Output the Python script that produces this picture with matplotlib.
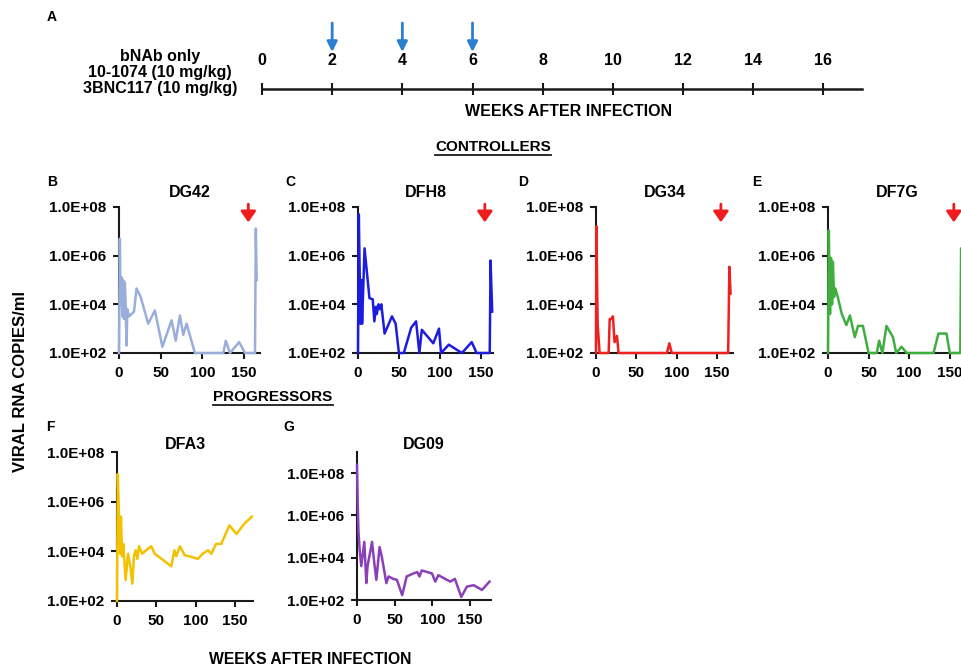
import matplotlib
matplotlib.use('Agg')
import matplotlib.pyplot as plt
from matplotlib import font_manager
from matplotlib.lines import Line2D

plt.rcParams['font.family'] = 'Liberation Sans'
plt.rcParams['font.weight'] = 'bold'

# ---------------- data (copies/ml) ----------------
dose_weeks = [2, 4, 6]
timeline_ticks = [0, 2, 4, 6, 8, 10, 12, 14, 16]
regimen_lines = ['bNAb only', '10-1074 (10 mg/kg)', '3BNC117 (10 mg/kg)']
rebound_arrow_week = 155

ytick_vals = [1e2, 1e4, 1e6, 1e8]
ytick_labels = ['1.0E+02', '1.0E+04', '1.0E+06', '1.0E+08']
xtick_vals = [0, 50, 100, 150]

weeks_dg42 = [0, 1, 2, 3, 4, 5, 6, 7, 8, 9, 10, 12, 15, 18, 21, 26, 35, 43, 52,
              63, 68, 73, 77, 81, 91, 125, 128, 133, 144, 151, 163, 164, 165]
copies_dg42 = [1e2, 5e6, 1e4, 1.3e5, 3.2e3, 1e5, 2.5e3, 8e4, 1e4, 200, 6.3e3, 3.2e3,
               4e3, 5e3, 4.5e4, 2e4, 1.6e3, 5.6e3, 180, 2.2e3, 320, 3.5e3, 560, 1.6e3,
               1e2, 1e2, 320, 1e2, 280, 1e2, 1e2, 1.3e7, 1e5]

weeks_dfh8 = [0, 1, 3, 4, 5, 8, 14, 18, 20, 22, 23, 25, 27, 28.5, 32.5, 41.5, 46, 50,
              56, 65, 71, 75, 78, 92, 99, 101.5, 111, 127, 139, 145, 161, 162, 164]
copies_dfh8 = [1e2, 5e7, 1.6e3, 1e5, 1.6e3, 2e6, 1.8e4, 1.6e4, 2e3, 8e3, 4e3, 1e4,
               6.3e3, 1e4, 630, 3.2e3, 1.6e3, 1e2, 1e2, 1.1e3, 2e3, 1e2, 900, 250,
               1e3, 1e2, 220, 1e2, 280, 1e2, 1e2, 6.3e5, 5e3]

weeks_dg34 = [0, 0.5, 2, 4.5, 15.7, 17, 19, 21, 23, 26, 28, 88, 91, 94, 164, 165.5, 167]
copies_dg34 = [1e2, 1.6e7, 1.6e3, 1e2, 1e2, 2.5e3, 2.5e3, 3.2e3, 280, 500, 1e2, 1e2,
               250, 1e2, 1e2, 3.5e5, 2.8e4]

weeks_df7g = [0, 1, 2.5, 3.7, 5, 6, 7.4, 9, 12, 17, 22.6, 27, 33, 37, 43, 50, 60, 63,
              67, 72, 80, 84, 90.5, 97, 130, 136, 146, 150, 163, 164, 165]
copies_df7g = [1e2, 1.1e7, 4e3, 8e5, 1e4, 5.6e5, 2e4, 4.5e4, 2e4, 4e3, 1.4e3, 3.5e3,
               450, 1.3e3, 1.3e3, 1e2, 1e2, 320, 1e2, 1.3e3, 450, 1e2, 180, 1e2, 1e2,
               630, 630, 1e2, 1e2, 2e6, 1e5]

weeks_dfa3 = [0, 1, 2.5, 4, 5, 6.5, 8, 11, 14, 17, 19.5, 21.6, 23.7, 26, 28, 32, 37,
              43.6, 48, 58.5, 69, 73, 75.4, 80, 86, 92, 103, 109, 115.7, 120, 126,
              132.6, 143, 152, 162, 171.6]
copies_dfa3 = [1e2, 1.3e7, 2.5e5, 8e3, 2.5e5, 6.3e3, 2e4, 700, 8e3, 2.5e3, 500, 6.3e3,
               1.1e4, 5e3, 1.6e4, 8e3, 1.1e4, 1.6e4, 8e3, 4.5e3, 2.5e3, 1.1e4, 6.3e3,
               1.6e4, 7e3, 6.3e3, 5e3, 8e3, 1.1e4, 8e3, 2e4, 2e4, 1.1e5, 5e4, 1.3e5, 2.5e5]

weeks_dg09 = [0, 1, 2, 3.5, 5.7, 9.7, 12.4, 14, 20, 23, 25.7, 30, 33, 39, 42, 48, 53,
              60, 66, 75, 80, 83, 86, 99.6, 104, 108, 117, 124, 130, 138.5, 146, 155,
              166, 176]
copies_dg09 = [2.5e8, 3e6, 1.6e5, 2.5e4, 4e3, 5.6e4, 630, 4e3, 5.6e4, 5.6e3, 900, 3.2e4,
               1.1e4, 630, 1.3e3, 1e3, 900, 170, 1.3e3, 1.8e3, 2.1e3, 1.3e3, 2.5e3,
               1.8e3, 740, 1.5e3, 1e3, 740, 1e3, 140, 430, 500, 300, 740]

# ---------------- layout ----------------
W, H = 962, 666
INK = '#1a1a1a'

names = {f.name for f in font_manager.fontManager.ttflist}
if 'Liberation Sans Narrow' in names:
    top_font, top_size = 'Liberation Sans Narrow', 13.5
else:
    top_font, top_size = 'Liberation Sans', 11.5


def px_box(left, top, width, height):
    return [left / W, 1 - (top + height) / H, width / W, height / H]


def fig_text(x, y, s, **kw):
    return fig.text(x / W, 1 - y / H, s, **kw)


fig = plt.figure(figsize=(W / 100, H / 100), dpi=100)

# panel A: dosing timeline
ax_a = fig.add_axes(px_box(262, 76, 600, 13))
ax_a.set_xlim(0, 17.1)
ax_a.set_ylim(0, 1)
ax_a.set_xticks(timeline_ticks)
ax_a.set_yticks([])
for s in ['top', 'right', 'left']:
    ax_a.spines[s].set_visible(False)
ax_a.spines['bottom'].set_linewidth(1.8)
ax_a.spines['bottom'].set_color(INK)
ax_a.patch.set_visible(False)
ax_a.tick_params(axis='x', direction='inout', length=8, width=1.5, color=INK,
                 top=False, bottom=True, labeltop=True, labelbottom=False, pad=2,
                 labelsize=top_size)
for lab in ax_a.get_xticklabels():
    lab.set_family(top_font)
for w in dose_weeks:
    ax_a.annotate('', xy=(w, 1 - 52 / H), xytext=(w, 1 - 23 / H),
                  xycoords=('data', 'figure fraction'),
                  textcoords=('data', 'figure fraction'),
                  arrowprops=dict(arrowstyle='-|>', color='#2a7fd0', lw=2,
                                  mutation_scale=15, shrinkA=0, shrinkB=0),
                  annotation_clip=False)

for i, line in enumerate(regimen_lines):
    fig_text(160, 57 + 16 * i, line, ha='center', va='center', family=top_font,
             fontsize=top_size, fontweight='bold')
fig_text(569, 111, 'WEEKS AFTER INFECTION', ha='center', va='center',
         family=top_font, fontsize=top_size, fontweight='bold')
fig_text(52, 17, 'A', ha='center', va='center', fontsize=10, fontweight='bold')


def viral_panel(rect, weeks, copies, color, name, xmax, ymax=1e8, title_pad=7.0,
                arrow=True):
    ax = fig.add_axes(px_box(*rect))
    ax.plot(weeks, copies, color=color, lw=1.8, zorder=3, clip_on=False)
    ax.set_yscale('log')
    ax.set_ylim(1e2, ymax)
    ax.set_xlim(0, xmax)
    ax.set_yticks(ytick_vals, labels=ytick_labels)
    ax.set_xticks(xtick_vals)
    ax.minorticks_off()
    for s in ['top', 'right']:
        ax.spines[s].set_visible(False)
    for s in ['left', 'bottom']:
        ax.spines[s].set_linewidth(1.5)
        ax.spines[s].set_color(INK)
    ax.tick_params(direction='out', length=4, width=1.5, color=INK, labelsize=11)
    ax.tick_params(axis='y', pad=5)
    ax.tick_params(axis='x', pad=5.5)
    ax.set_title(name, fontsize=11.5, fontweight='bold', pad=title_pad)
    if arrow:
        ax.annotate('', xy=(rebound_arrow_week, 0.895),
                    xytext=(rebound_arrow_week, 1.02),
                    xycoords=('data', 'axes fraction'),
                    textcoords=('data', 'axes fraction'),
                    arrowprops=dict(arrowstyle='-|>,head_length=0.5,head_width=0.35',
                                    color='#ee1c1c', lw=2, mutation_scale=13,
                                    shrinkA=0, shrinkB=0),
                    annotation_clip=False)
    return ax


# controllers
viral_panel((119, 207, 141, 146), weeks_dg42, copies_dg42, '#9aaedc', 'DG42', 169)
viral_panel((358, 207, 135, 146), weeks_dfh8, copies_dfh8, '#1c1ce0', 'DFH8', 165)
viral_panel((596, 207, 137, 146), weeks_dg34, copies_dg34, '#ee2020', 'DG34', 170)
viral_panel((828, 207, 138, 146), weeks_df7g, copies_df7g, '#3fae3f', 'DF7G', 170)
# progressors
viral_panel((117, 452, 136, 149), weeks_dfa3, copies_dfa3, '#f2c100', 'DFA3', 173,
            title_pad=2, arrow=False)
viral_panel((357, 452, 134, 148), weeks_dg09, copies_dg09, '#8b3fb8', 'DG09', 178,
            ymax=1e9, title_pad=2, arrow=False)

for letter, x, y in [('B', 52, 182), ('C', 290, 182), ('D', 523, 182), ('E', 757, 182),
                     ('F', 50, 427), ('G', 289, 427)]:
    fig_text(x, y, letter, ha='center', va='center', fontsize=10, fontweight='bold')

fig_text(21, 381, 'VIRAL RNA COPIES/ml', rotation=90, ha='center', va='center',
         fontsize=12, fontweight='bold')
fig_text(310, 659, 'WEEKS AFTER INFECTION', ha='center', va='center',
         fontsize=11.3, fontweight='bold')

# underlined group headings
headings = []
for label, x, y in [('CONTROLLERS', 493, 147), ('PROGRESSORS', 273, 397)]:
    headings.append(fig_text(x, y, label, ha='center', va='center', fontsize=11,
                             fontweight='bold'))
fig.canvas.draw()
for t in headings:
    bb = t.get_window_extent()
    fig.add_artist(Line2D([bb.x0 / W, bb.x1 / W], [(bb.y0 - 1) / H] * 2,
                          transform=fig.transFigure, color=INK, lw=1.3))

fig.savefig('out.png', dpi=100, facecolor='white')
